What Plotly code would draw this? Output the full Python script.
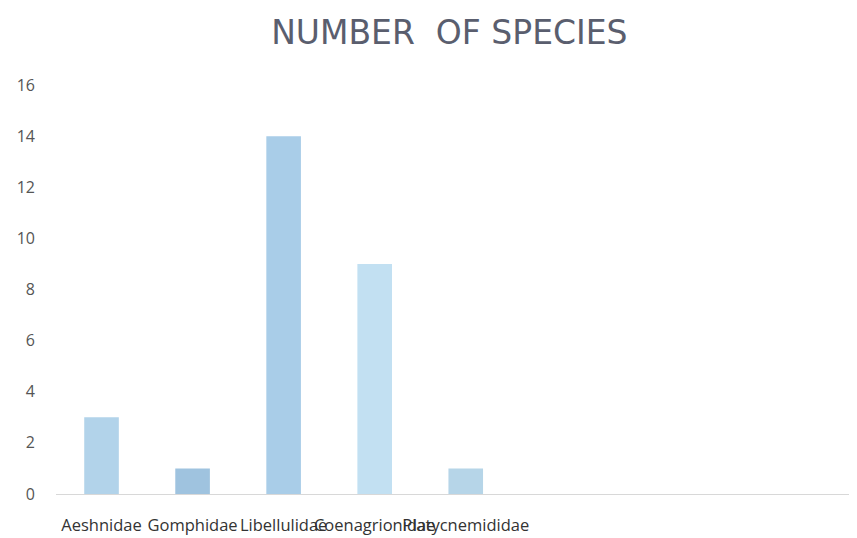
import plotly.graph_objects as go

families = ["Aeshnidae", "Gomphidae", "Libellulidae", "Coenagrionidae", "Platycnemididae"]
species = [3, 1, 14, 9, 1]
y_ticks = [0, 2, 4, 6, 8, 10, 12, 14, 16]
bar_colors = ["#b2d3ea", "#9fc3df", "#a9cde8", "#c2e0f2", "#b6d5e8"]

fig = go.Figure(go.Bar(
    x=families, y=species,
    marker=dict(color=bar_colors, line=dict(width=0)),
))

fig.update_layout(
    width=857, height=538,
    margin=dict(l=48, r=5, t=77, b=52, autoexpand=False),
    paper_bgcolor="white", plot_bgcolor="white",
    bargap=0.62,
    showlegend=False,
    font=dict(family="Open Sans", color="#404040"),
    title=dict(text="NUMBER  OF SPECIES", x=0.515, xanchor="center", y=0.955, yanchor="middle",
               font=dict(family="DejaVu Sans", size=33, color="#5a5e6e")),
)
fig.update_xaxes(
    type="category", range=[-0.5, 8.33], automargin=False,
    showgrid=False, showline=True, linecolor="#d8d8d8", linewidth=1,
    ticks="", tickangle=0, tickfont=dict(size=16.5, color="#333333"), ticklabelstandoff=16,
)
fig.update_yaxes(
    range=[0, 16], tickvals=y_ticks, showgrid=False, zeroline=False, showline=False,
    automargin=False,
    ticks="", tickfont=dict(size=16, color="#555555"), ticklabelstandoff=20,
)

fig.write_html("out.html")
